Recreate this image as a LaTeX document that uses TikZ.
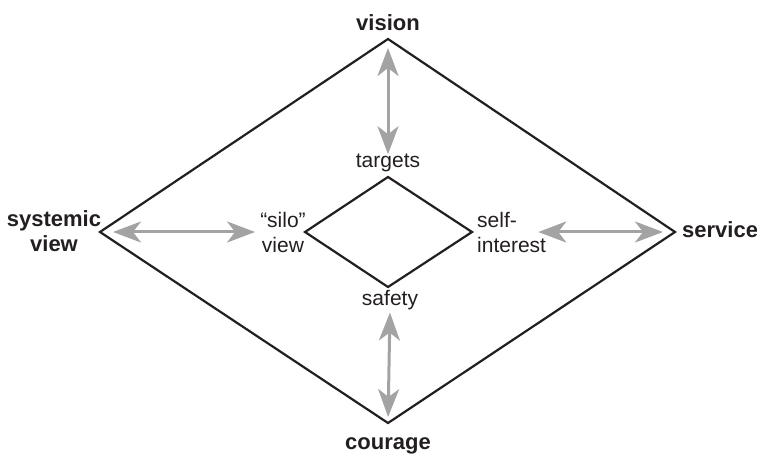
\documentclass[tikz,border=0pt]{standalone}
\usepackage{fontspec}
\setmainfont{Liberation Sans}
\usetikzlibrary{arrows.meta,positioning}
\definecolor{DiaInk}{HTML}{231F20}
\definecolor{DiaGrey}{HTML}{A3A3A3}

\begin{document}
\begin{tikzpicture}[x=1pt, y=-1pt,
    every node/.style={inner sep=0pt, text=DiaInk, font=\fontsize{21}{25}\selectfont},
    pole/.style={font=\fontsize{22}{25}\selectfont\bfseries},
    rim/.style={draw=DiaInk, line width=2.2pt, line join=miter},
    pullarrow/.style={{Stealth[length=28pt,width=21pt,inset=8pt]}-{Stealth[length=28pt,width=21pt,inset=8pt]}, line width=3pt, DiaGrey}]
    \useasboundingbox (0,0) rectangle (757,454);
    % outer and inner corners
    \coordinate (oT) at (388,39);
    \coordinate (oR) at (675,232);
    \coordinate (oB) at (388,423);
    \coordinate (oL) at (100,232);
    \coordinate (iT) at (388,177);
    \coordinate (iR) at (472,232);
    \coordinate (iB) at (388,287);
    \coordinate (iL) at (305,232);
    \draw[rim] (oT) -- (oR) -- (oB) -- (oL) -- cycle;
    \draw[rim] (iT) -- (iR) -- (iB) -- (iL) -- cycle;
    % labels
    \node[pole,anchor=base] (vision) at (388,31) {vision};
    \node[pole,anchor=base] (courage) at (388,449) {courage};
    \node[pole,align=center] (systemic) at (54,231) {systemic\\view};
    \node[pole,anchor=base west] (service) at (682,237) {service};
    \node[anchor=base] (targets) at (388,168) {targets};
    \node[anchor=base] (safety) at (390,305) {safety};
    \node[align=center] (silo) at (283,232) {“silo”\\view};
    \node[align=left,anchor=west] (self) at (477,232) {self-\\interest};
    % arrows
    \draw[pullarrow,shorten <=9pt] (oT) -- (targets.north);
    \draw[pullarrow,shorten <=3pt,shorten >=6pt] (safety.south) -- (oB);
    \draw[pullarrow,shorten <=13pt,shorten >=5pt] (oL) -- (silo.west);
    \draw[pullarrow,shorten <=-8pt,shorten >=12pt] (self.east) -- (oR);
\end{tikzpicture}
\end{document}
